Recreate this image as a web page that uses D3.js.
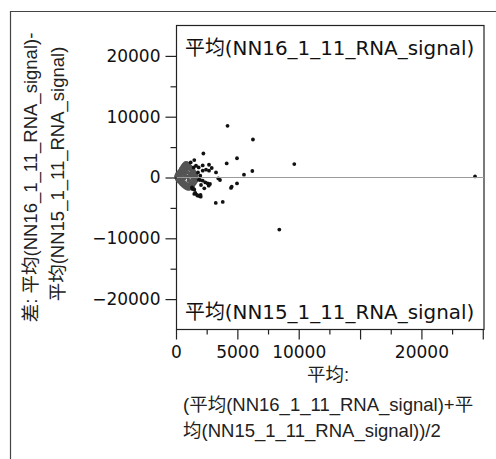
<!DOCTYPE html>
<html><head><meta charset="utf-8">
<script src="https://cdn.jsdelivr.net/npm/d3@7"></script>
<style>
html,body{margin:0;padding:0;background:#fff;}
svg{display:block;}
</style></head>
<body>
<svg id="chart" width="496" height="459"></svg>
<script>
// ---- data (mean x, difference y) ----
const outlierX = [4200,6270,2230,4970,9640,4130,6220,5540,24370,8420,3240,3810,4480,4540,4970,2690,2910,2690,2176,3260,3447,3586,1956,2388,2584,2771,2038,2306,1328,1491,1491,1769,2013,1899,1491,1198,1630,1850,1440,2445,2176,1793,1980,1850,1304,1443,2176,2665,1573,1712,2000];
const outlierY = [8500,6250,3950,3170,2210,2310,1070,460,180,-8560,-4180,-4020,-1720,-1510,-970,2100,1560,1115,1984,836,-148,-410,-410,-804,-968,-1066,-1230,-1788,-1886,-2001,-2706,-2985,-3149,-3034,2870,2476,1935,1656,1656,1280,1115,836,295,-360,-1624,-1886,-525,-1345,-2542,-2870,-2880];
const clusterX = [30,80,120,150,200,260,300,340,380,420,460,500,540,580,620,660,700,740,780,820,860,900,940,980,1020,1060,1100,1150,1200,1250,1300,1350,1400,1450,1500,1550,1600,1650,
  90,170,240,310,390,470,550,630,710,790,870,950,1030,1110,1190,1270,1350,1430,1510,1590,
  110,210,330,450,560,680,760,840,920,1000,1080,1160,1240,1320,1400,1480,
  180,280,410,520,640,720,810,890,970,1050,1130,1210,1290,1370,1450,1560];
const clusterY = [150,420,-300,650,-520,880,-700,1100,-880,1400,-1050,1650,-1200,1900,-1350,2100,-1480,2250,-1600,2350,-1700,2300,-1780,2150,-1820,1950,-1760,1750,-1650,1500,-1480,1250,-1250,1000,-950,700,-600,300,
  -120,200,-250,400,-400,700,-650,1000,-900,1300,-1150,1550,-1300,1500,-1350,1200,-1100,900,-700,500,
  300,-150,600,-600,1100,-1000,1600,-1300,1900,-1500,1700,-1400,1300,-1000,800,-300,
  0,650,100,1300,-200,400,-1100,900,100,-500,600,-800,300,-200,400,0];
const xTickLabels = [0,5000,10000,20000];
const xMajorTicks = [0,5000,10000,15000,20000,25000];
const xMinorTicks = [2500,7500,12500,17500,22500];
const yMajorTicks = [-20000,-10000,0,10000,20000];
const yMinorTicks = [-15000,-5000,5000,15000];
const topLabel = "平均(NN16_1_11_RNA_signal)";
const bottomLabel = "平均(NN15_1_11_RNA_signal)";
const yTitle = ["差: 平均(NN16_1_11_RNA_signal)-", "平均(NN15_1_11_RNA_signal)"];
const xTitle = ["平均:", "(平均(NN16_1_11_RNA_signal)+平", "均(NN15_1_11_RNA_signal))/2"];

const svg = d3.select("#chart");
const L = 176, R = 484, T = 25.5, B = 329.5;
const x = d3.scaleLinear().domain([0, 25100]).range([L, R]);
const y = d3.scaleLinear().domain([-25000, 25000]).range([B, T]);

const tickFont = "'DejaVu Sans','Noto Sans CJK SC',sans-serif";
const titleFont = "'Liberation Sans',Arial,'Noto Sans CJK SC',sans-serif";

// outer border
svg.append("path").attr("d", `M10.5,459 L10.5,11.5 L496,11.5`)
  .attr("fill","none").attr("stroke","#444").attr("stroke-width",1.2);

// plot frame
svg.append("rect").attr("x", L+0.5).attr("y", T).attr("width", R-L-0.5).attr("height", B-T)
  .attr("fill","#fff").attr("stroke","#222").attr("stroke-width",1.2);

// in-plot labels
svg.append("text").attr("x", 185).attr("y", 55).text(topLabel)
  .attr("font-family", tickFont).attr("font-size", 19.9).attr("fill","#111");
svg.append("text").attr("x", 185).attr("y", 319).text(bottomLabel)
  .attr("font-family", tickFont).attr("font-size", 19.9).attr("fill","#111");

// points
const cluster = clusterX.map((d,i)=>[d, clusterY[i]]);
svg.append("g").selectAll("circle").data(cluster).join("circle")
  .attr("cx", d=>x(d[0])).attr("cy", d=>y(d[1])).attr("r", 2.3).attr("fill","#555");
const outl = outlierX.map((d,i)=>[d, outlierY[i]]);
svg.append("g").selectAll("circle").data(outl).join("circle")
  .attr("cx", d=>x(d[0])).attr("cy", d=>y(d[1])).attr("r", 1.9).attr("fill","#111");

// zero line
svg.append("line").attr("x1", L+1).attr("x2", R).attr("y1", y(0)).attr("y2", y(0))
  .attr("stroke","#9a9a9a").attr("stroke-width",1.2);

// axes
function styleAxis(g){
  g.select(".domain").remove();
  g.selectAll(".tick line").attr("stroke","#222").attr("stroke-width",1.2);
  g.selectAll(".tick text").attr("font-family", tickFont).attr("font-size", 17).attr("fill","#111");
}
const minus = v => v < 0 ? "\u2212" + Math.abs(v) : String(v);

svg.append("g").attr("transform",`translate(${L+0.5},0)`)
  .call(d3.axisLeft(y).tickValues(yMajorTicks).tickSize(11).tickPadding(5).tickFormat(minus))
  .call(styleAxis);
svg.append("g").attr("transform",`translate(${L+0.5},0)`)
  .call(d3.axisLeft(y).tickValues(yMinorTicks).tickSize(6).tickFormat(""))
  .call(styleAxis);
svg.append("g").attr("transform",`translate(0,${B})`)
  .call(d3.axisBottom(x).tickValues(xMajorTicks).tickSize(10).tickPadding(6)
    .tickFormat(d => xTickLabels.includes(d) ? String(d) : ""))
  .call(styleAxis);
svg.append("g").attr("transform",`translate(0,${B})`)
  .call(d3.axisBottom(x).tickValues(xMinorTicks).tickSize(5).tickFormat(""))
  .call(styleAxis);

// y title
svg.append("text").attr("font-family", titleFont).attr("font-size", 18.5).attr("fill","#222")
  .attr("text-anchor","middle").attr("transform","translate(36.5,177.5) rotate(-90)").text(yTitle[0]);
svg.append("text").attr("font-family", titleFont).attr("font-size", 18.5).attr("fill","#222")
  .attr("text-anchor","middle").attr("transform","translate(63.5,174) rotate(-90)").text(yTitle[1]);

// x title
svg.append("text").attr("x", 328).attr("y", 381).attr("text-anchor","middle")
  .attr("font-family", titleFont).attr("font-size", 18.5).attr("fill","#222").text(xTitle[0]);
svg.append("text").attr("x", 183).attr("y", 411)
  .attr("font-family", titleFont).attr("font-size", 18.5).attr("fill","#222").text(xTitle[1]);
svg.append("text").attr("x", 183).attr("y", 437)
  .attr("font-family", titleFont).attr("font-size", 18.5).attr("fill","#222").text(xTitle[2]);
</script>
</body></html>
